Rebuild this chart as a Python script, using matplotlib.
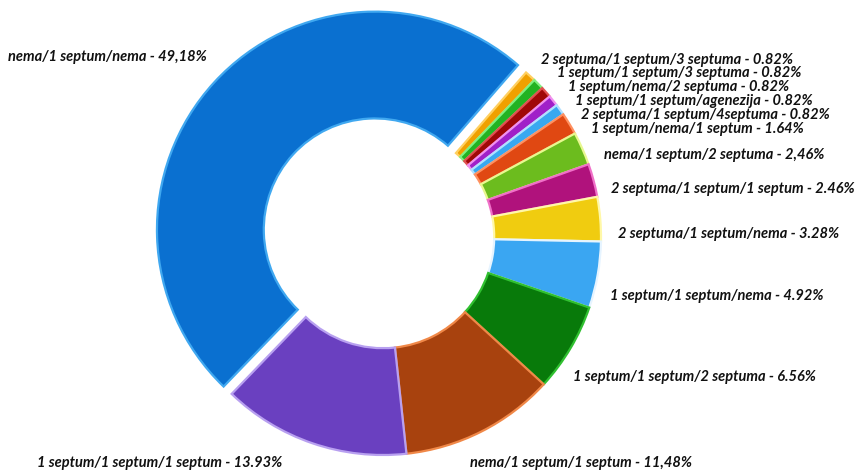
import matplotlib
matplotlib.use("Agg")
import matplotlib.pyplot as plt

labels = [
    "2 septuma/1 septum/3 septuma",
    "1 septum/1 septum/3 septuma",
    "1 septum/nema/2 septuma",
    "1 septum/1 septum/agenezija",
    "2 septuma/1 septum/4septuma",
    "1 septum/nema/1 septum",
    "nema/1 septum/2 septuma",
    "2 septuma/1 septum/1 septum",
    "2 septuma/1 septum/nema",
    "1 septum/1 septum/nema",
    "1 septum/1 septum/2 septuma",
    "nema/1 septum/1 septum",
    "1 septum/1 septum/1 septum",
    "nema/1 septum/nema",
]
values = [0.82, 0.82, 0.82, 0.82, 0.82, 1.64, 2.46, 2.46, 3.28, 4.92, 6.56, 11.48, 13.93, 49.18]
value_texts = ["0.82%", "0.82%", "0.82%", "0.82%", "0.82%", "1.64%", "2,46%", "2.46%",
               "3.28%", "4.92%", "6.56%", "11,48%", "13.93%", "49,18%"]

colors = ["#f0a000", "#22b322", "#a00808", "#a020c8", "#38a8f0", "#e04812", "#6cbc1e",
          "#b0127c", "#f0cc10", "#3aa6f2", "#087a0a", "#a8420e", "#6a40c0", "#0a70d0"]
edges = ["#ffd060", "#80f080", "#e05050", "#f090f0", "#b0e0ff", "#ff9060", "#e8f890",
         "#f070c8", "#fff8a8", "#e6f4ff", "#30c030", "#f08848", "#b8a0f0", "#40a8f0"]

# label positions in pixels (x of left edge, y of text centre) - layout only
label_px = [(541, 60), (557, 73), (568, 87), (575, 101), (581, 115), (591, 129),
            (604, 155), (611, 189), (618, 234), (610, 296), (573, 377), (470, 463),
            (37, 463), (8, 57)]

W, H = 859, 472
fig = plt.figure(figsize=(W / 100, H / 100), dpi=100)
ax = fig.add_axes([0, 0, 1, 1])

cx, cy, R = 383, 237, 218
explode = [0.0] * len(values)
explode[-1] = 0.05

wedges, _ = ax.pie(values, colors=colors, startangle=49, counterclock=False,
                   explode=explode, radius=1.0,
                   wedgeprops=dict(width=0.49, linewidth=1.6))
for w, ec in zip(wedges, edges):
    w.set_edgecolor(ec)

ax.set_aspect("auto")
ax.set_xlim(-cx / R, (W - cx) / R)
ax.set_ylim(-(H - cy) / R, cy / R)
ax.axis("off")

for lab, vt, (px, py) in zip(labels, value_texts, label_px):
    x = (px - cx) / R
    y = (cy - py) / R
    ax.text(x, y, f"{lab} - {vt}", ha="left", va="center", fontsize=10.5,
            fontstyle="italic", fontweight="bold", family=["Lato", "DejaVu Sans"],
            color="#111111")

fig.savefig("out.png", dpi=100)
